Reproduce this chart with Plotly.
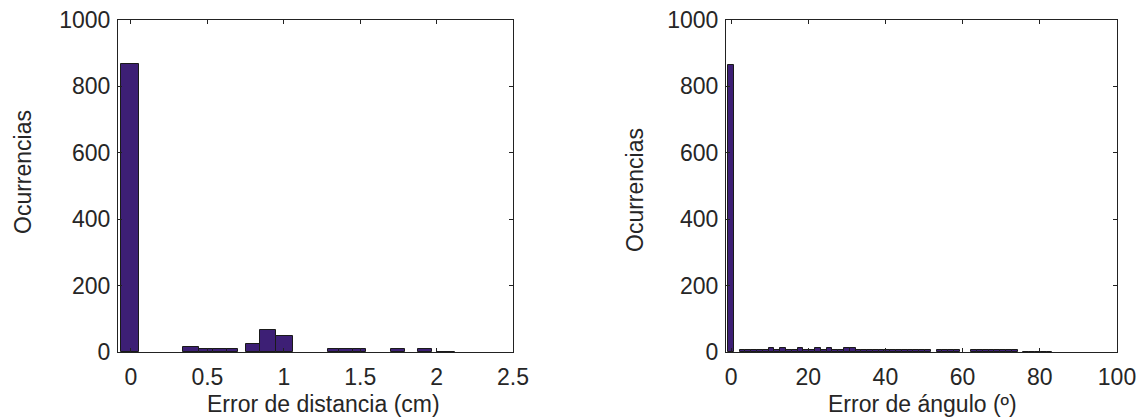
import plotly.graph_objects as go

# ---- data ----
# Left histogram: distance error (cm); bins given by left/right edges
dist_left_edges  = [-0.068, 0.342, 0.447, 0.539, 0.63, 0.754, 0.846, 0.95, 1.29, 1.364, 1.45, 1.70, 1.88, 2.00]
dist_right_edges = [ 0.055, 0.447, 0.539, 0.63, 0.70, 0.846, 0.95, 1.06, 1.364, 1.45, 1.54, 1.79, 1.97, 2.12]
dist_counts      = [868, 16, 8, 8, 8, 25, 65, 48, 8, 8, 8, 8, 8, 1]

# Right histogram: angle error (deg); bin width 1.5
ang_bin_width = 1.5
ang_centers = [0, 3, 4.5, 6, 7.5, 9, 10.5, 12, 13.5, 15, 16.5, 18, 19.5, 21, 22.5, 24, 25.5,
               27, 28.5, 30, 31.5, 33, 34.5, 36, 37.5, 39, 40.5, 42, 43.5, 45, 46.5, 48, 49.5,
               51, 54, 55.5, 57, 58.5, 63, 64.5, 66, 67.5, 69, 70.5, 72, 73.5,
               76.5, 78, 79.5, 81, 82.5]
ang_counts = [865, 5, 5, 5, 5, 5, 12, 5, 12, 5, 5, 12, 5, 5, 12, 5, 12,
              5, 5, 12, 12, 5, 5, 5, 5, 5, 5, 5, 5, 5, 5, 5, 5,
              5, 5, 5, 5, 5, 5, 5, 5, 5, 5, 5, 5, 5,
              1, 1, 1, 1, 1]

dist_ticks = [0, 0.5, 1, 1.5, 2, 2.5]
ang_ticks = [0, 20, 40, 60, 80, 100]
y_ticks = [0, 200, 400, 600, 800, 1000]

BAR = "rgb(61,31,117)"
EDGE = "#1a1a1a"
TXT = "#262626"
FONT = "Liberation Sans, Arial, sans-serif"
FS = 23

fig = go.Figure()

dist_centers = [(a + b) / 2 for a, b in zip(dist_left_edges, dist_right_edges)]
dist_widths = [b - a for a, b in zip(dist_left_edges, dist_right_edges)]
fig.add_trace(go.Bar(x=dist_centers, y=dist_counts, width=dist_widths,
                     marker=dict(color=BAR, line=dict(color=EDGE, width=1)),
                     xaxis="x", yaxis="y", showlegend=False))
fig.add_trace(go.Bar(x=ang_centers, y=ang_counts, width=[ang_bin_width] * len(ang_centers),
                     marker=dict(color=BAR, line=dict(color=EDGE, width=1)),
                     xaxis="x2", yaxis="y2", showlegend=False))

W, H = 1146, 419
OFF = 8  # page body margin offset
def px(x):
    return (x - OFF) / W
def py(y):
    return (H - (y - OFF)) / H

axis_common = dict(showline=True, linecolor="#222", linewidth=1, mirror="allticks",
                   ticks="inside", ticklen=4, tickcolor="#222", showgrid=False, zeroline=False,
                   automargin=False, ticklabeloverflow="allow",
                   tickfont=dict(family=FONT, size=FS, color=TXT))

fig.update_layout(
    width=W, height=H, margin=dict(l=0, r=0, t=0, b=0, pad=0, autoexpand=False),
    paper_bgcolor="white", plot_bgcolor="white", bargap=0,
    xaxis=dict(domain=[px(118), px(513)], range=[-0.085, 2.5], tickvals=dist_ticks,
               anchor="y", ticklabelstandoff=4, **axis_common),
    yaxis=dict(domain=[py(352), py(20)], range=[0, 1000], tickvals=y_ticks,
               anchor="x", ticklabelstandoff=2, **axis_common),
    xaxis2=dict(domain=[px(726), px(1117)], range=[-1.3, 100], tickvals=ang_ticks,
                anchor="y2", ticklabelstandoff=4, **axis_common),
    yaxis2=dict(domain=[py(352), py(20)], range=[0, 1000], tickvals=y_ticks,
                anchor="x2", ticklabelstandoff=2, **axis_common),
    annotations=[
        dict(text="Error de distancia (cm)", x=px(323), y=py(404), xref="paper", yref="paper",
             showarrow=False, xanchor="center", yanchor="middle",
             font=dict(family=FONT, size=FS, color=TXT)),
        dict(text="Error de ángulo (º)", x=px(922), y=py(404), xref="paper", yref="paper",
             showarrow=False, xanchor="center", yanchor="middle",
             font=dict(family=FONT, size=FS, color=TXT)),
        dict(text="Ocurrencias", x=px(23), y=py(172), xref="paper", yref="paper",
             showarrow=False, xanchor="center", yanchor="middle", textangle=-90,
             font=dict(family=FONT, size=FS, color=TXT)),
        dict(text="Ocurrencias", x=px(635), y=py(190), xref="paper", yref="paper",
             showarrow=False, xanchor="center", yanchor="middle", textangle=-90,
             font=dict(family=FONT, size=FS, color=TXT)),
    ],
)

fig.write_html("out.html")
